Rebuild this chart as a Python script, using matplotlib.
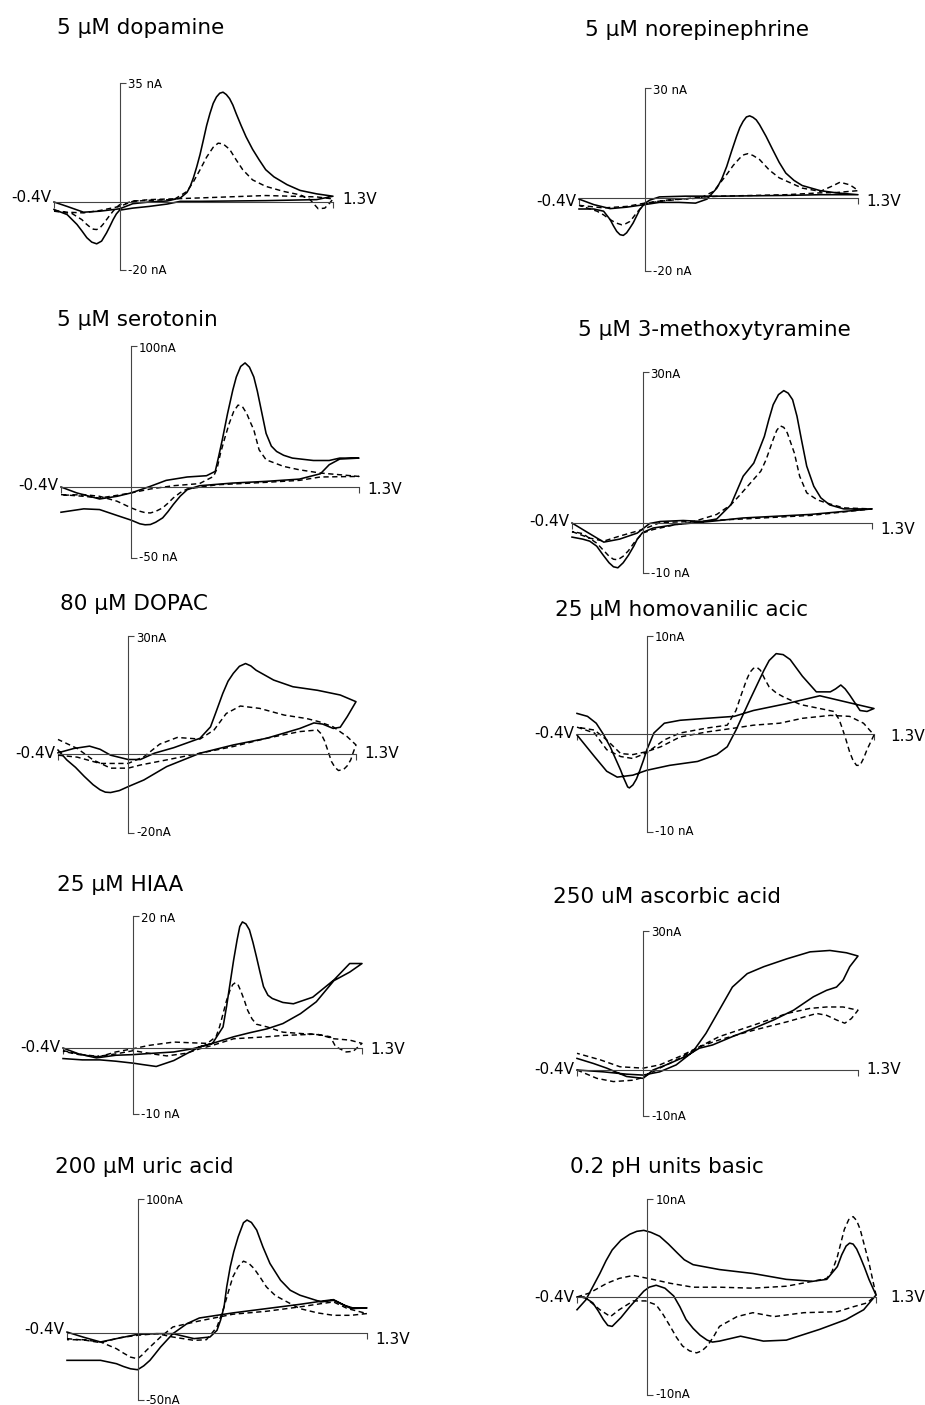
import matplotlib
matplotlib.use("Agg")
import matplotlib.pyplot as plt

plt.rcParams['font.family'] = ['DejaVu Sans']

# Each trace is one voltammogram: forward sweep -0.4 -> 1.3 V, then back to -0.4 V.
# Potentials in V, currents in nA.

# dopamine
da_solid_E = [-0.40, -0.32, -0.22, -0.12, 0.00, 0.08, 0.18, 0.29, 0.37, 0.41, 0.43, 0.45, 0.47, 0.49, 0.51,
              0.53, 0.55, 0.57, 0.59, 0.61, 0.63, 0.65, 0.67, 0.69, 0.71, 0.74, 0.77, 0.81, 0.85, 0.89,
              0.94, 1.02, 1.10, 1.20, 1.30,
              1.20, 0.89, 0.49, 0.37, 0.29, 0.18, 0.08, 0.00, -0.02, -0.04, -0.06, -0.08, -0.11, -0.14,
              -0.17, -0.20, -0.23, -0.26, -0.32, -0.40]
da_solid_nA = [0.0, -1.3, -3.0, -2.7, -2.0, -0.5, 0.0, 0.3, 1.2, 2.8, 4.6, 7.2, 10.4, 14.0, 18.2,
               22.5, 26.0, 29.0, 30.9, 32.0, 32.3, 31.6, 30.4, 28.5, 26.0, 22.5, 19.2, 15.5, 12.4, 9.5,
               7.4, 5.1, 3.4, 2.4, 1.7,
               0.7, 0.4, 0.2, 0.2, -0.6, -1.3, -1.8, -2.4, -3.5, -5.2, -7.2, -9.1, -11.5, -12.3,
               -11.8, -10.5, -8.5, -6.6, -3.7, -2.2]
da_dash_E = [-0.40, -0.32, -0.22, -0.12, 0.00, 0.08, 0.18, 0.33, 0.41, 0.45, 0.49, 0.53, 0.57, 0.60, 0.63,
             0.67, 0.71, 0.75, 0.81, 0.89, 1.00, 1.10, 1.16, 1.21, 1.25, 1.28, 1.30,
             1.20, 0.89, 0.49, 0.18, 0.08, 0.00, -0.02, -0.04, -0.06, -0.08, -0.10, -0.12, -0.14, -0.16,
             -0.18, -0.205, -0.23, -0.29, -0.40]
da_dash_nA = [-2.5, -3.0, -3.2, -2.5, -1.3, 0.2, 0.5, 0.7, 3.1, 6.0, 9.5, 13.2, 16.1, 17.3, 17.1,
              15.5, 12.4, 9.5, 6.5, 4.6, 3.1, 2.1, 0.7, -2.0, -1.8, -0.3, 0.9,
              1.5, 1.9, 1.2, 0.7, 0.2, -0.8, -1.6, -2.7, -3.9, -5.2, -6.5, -7.6, -8.1, -8.0,
              -7.4, -6.4, -5.2, -3.4, -2.7]

# norepinephrine
ne_solid_E = [-0.40, -0.31, -0.21, -0.11, 0.00, 0.09, 0.21, 0.31, 0.38, 0.44, 0.47, 0.50, 0.53, 0.56, 0.58,
              0.60, 0.62, 0.64, 0.66, 0.68, 0.70, 0.74, 0.78, 0.82, 0.86, 0.91, 0.96, 1.07, 1.17, 1.30,
              1.07, 0.86, 0.66, 0.46, 0.25, 0.09, 0.03, 0.00, -0.03, -0.05, -0.07, -0.09, -0.11, -0.13,
              -0.15, -0.17, -0.19, -0.21, -0.25, -0.31, -0.40]
ne_solid_nA = [-0.3, -1.8, -2.9, -2.5, -1.8, -1.2, -1.2, -1.4, -0.3, 2.7, 5.2, 8.6, 12.8, 16.8, 19.2,
               20.9, 22.1, 22.4, 22.0, 21.3, 20.0, 16.8, 13.2, 9.7, 6.8, 4.8, 3.4, 2.0, 1.4, 0.9,
               0.9, 0.7, 0.6, 0.5, 0.5, 0.3, -0.6, -1.5, -3.2, -5.0, -6.8, -8.2, -9.5, -10.2,
               -10.0, -9.1, -7.6, -5.9, -3.6, -3.0, -3.0]
ne_dash_E = [-0.40, -0.25, -0.11, 0.00, 0.15, 0.34, 0.42, 0.50, 0.54, 0.58, 0.605, 0.63, 0.66, 0.70, 0.76,
             0.82, 0.96, 1.07, 1.15, 1.19, 1.25, 1.28, 1.30,
             1.17, 1.07, 0.86, 0.46, 0.34, 0.09, 0.00, -0.025, -0.05, -0.07, -0.09, -0.115, -0.14,
             -0.175, -0.21, -0.25, -0.29, -0.40]
ne_dash_nA = [-2.0, -2.7, -2.3, -1.4, -0.5, 0.0, 1.8, 6.4, 8.9, 10.9, 11.8, 12.1, 11.6, 10.5, 7.6,
              5.5, 2.7, 1.8, 3.4, 4.3, 3.6, 2.7, 2.0,
              1.5, 1.4, 0.9, 0.5, 0.2, -0.9, -1.6, -2.8, -4.1, -5.3, -6.4, -7.0, -7.3,
              -6.8, -5.9, -4.6, -3.6, -2.0]

# serotonin
ht_solid_E = [-0.40, -0.31, -0.18, -0.08, 0.00, 0.11, 0.20, 0.32, 0.43, 0.48, 0.50, 0.52, 0.55, 0.58, 0.60,
              0.625, 0.65, 0.675, 0.70, 0.72, 0.75, 0.77, 0.80, 0.83, 0.87, 0.92, 1.04, 1.13, 1.19, 1.30,
              1.19, 1.13, 1.08, 0.96, 0.77, 0.58, 0.39, 0.32, 0.28, 0.24, 0.21, 0.18, 0.14, 0.11, 0.08,
              0.05, 0.00, -0.08, -0.18, -0.27, -0.40]
ht_solid_nA = [0.0, -4.2, -8.5, -6.6, -4.2, 0.5, 4.7, 7.1, 8.0, 11.1, 22.0, 33.4, 52.0, 68.7, 78.0,
               85.5, 88.0, 85.0, 78.0, 68.0, 50.0, 38.0, 29.0, 25.2, 22.5, 20.5, 18.8, 18.8, 20.5, 20.5,
               19.8, 15.8, 9.4, 5.6, 4.0, 2.8, 0.9, -1.9, -6.5, -12.5, -17.5, -21.9, -25.0, -26.6, -26.8,
               -26.1, -23.5, -20.2, -16.0, -15.5, -17.9]
ht_dash_E = [-0.40, -0.27, -0.18, -0.08, 0.00, 0.11, 0.24, 0.39, 0.47, 0.49, 0.51, 0.535, 0.56, 0.585, 0.61,
             0.635, 0.66, 0.68, 0.70, 0.73, 0.77, 0.87, 0.96, 1.08, 1.19, 1.30,
             1.08, 0.96, 0.77, 0.49, 0.32, 0.28, 0.24, 0.21, 0.18, 0.14, 0.11, 0.08, 0.05, 0.00, -0.08,
             -0.18, -0.27, -0.40]
ht_dash_nA = [-5.4, -6.6, -7.8, -5.9, -4.2, -1.4, 0.9, 2.4, 7.5, 13.0, 24.0, 35.0, 45.2, 53.5, 58.1,
              57.0, 52.0, 46.0, 40.5, 26.4, 19.3, 14.6, 12.2, 9.9, 8.7, 7.5,
              7.1, 4.7, 3.3, 1.6, -1.4, -4.0, -7.8, -11.5, -14.8, -17.3, -18.4, -18.2, -17.2, -14.8, -10.1,
              -6.6, -5.4, -5.9]

# 3-methoxytyramine
mt_solid_E = [-0.40, -0.32, -0.22, -0.13, -0.03, 0.04, 0.10, 0.23, 0.34, 0.42, 0.50, 0.57, 0.63, 0.66,
              0.69, 0.715, 0.74, 0.77, 0.80, 0.825, 0.85, 0.875, 0.90, 0.93, 0.97, 1.01, 1.06, 1.14, 1.30,
              0.95, 0.57, 0.38, 0.19, 0.06, 0.00, -0.03, -0.05, -0.08, -0.11, -0.14, -0.165, -0.19,
              -0.225, -0.26, -0.30, -0.34, -0.40]
mt_solid_nA = [0.0, -1.7, -3.8, -3.2, -2.0, -0.1, 0.3, 0.5, 0.3, 0.8, 3.6, 9.3, 11.9, 14.5,
               17.2, 20.5, 23.5, 25.5, 26.3, 25.8, 24.5, 21.2, 16.6, 11.3, 7.3, 5.0, 3.6, 2.8, 2.8,
               1.7, 1.0, 0.3, -0.3, -1.0, -1.9, -3.2, -4.6, -6.4, -7.9, -8.9, -8.7, -7.9,
               -6.3, -4.6, -3.6, -3.2, -2.8]
mt_dash_E = [-0.40, -0.30, -0.22, -0.13, 0.00, 0.10, 0.29, 0.42, 0.50, 0.55, 0.61, 0.67, 0.70, 0.74,
             0.76, 0.78, 0.80, 0.82, 0.86, 0.89, 0.93, 0.99, 1.04, 1.14, 1.30,
             0.95, 0.57, 0.38, 0.19, 0.06, 0.00, -0.05, -0.08, -0.11, -0.14, -0.165, -0.19, -0.26,
             -0.34, -0.40]
mt_dash_nA = [-1.7, -3.0, -3.6, -2.6, -1.3, 0.1, 0.3, 1.7, 3.6, 5.5, 7.9, 10.3, 12.6, 16.6,
              18.4, 19.3, 19.0, 17.9, 13.9, 9.3, 6.0, 4.6, 4.0, 3.0, 2.8,
              1.5, 0.8, 0.5, -0.3, -1.3, -2.0, -4.0, -5.5, -6.6, -7.3, -7.2, -6.6, -4.0,
              -2.1, -1.7]

# DOPAC
dopac_solid_E = [-0.40, -0.31, -0.22, -0.16, -0.10, 0.00, 0.07, 0.15, 0.26, 0.41, 0.47, 0.50, 0.54, 0.57,
                 0.60, 0.635, 0.67, 0.70, 0.73, 0.83, 0.94, 1.08, 1.21, 1.30,
                 1.25, 1.21, 1.17, 1.11, 1.06, 0.98, 0.79, 0.60, 0.41, 0.22, 0.09, 0.00, -0.05, -0.10,
                 -0.13, -0.16, -0.20, -0.25, -0.30, -0.35, -0.40]
dopac_solid_nA = [0.3, 1.4, 2.0, 1.2, -0.3, -1.4, -1.4, 0.2, 1.6, 4.0, 6.9, 10.5, 15.4, 18.5,
                  20.5, 22.3, 23.0, 22.4, 21.3, 18.8, 17.1, 16.2, 15.0, 13.3,
                  9.5, 6.8, 6.5, 7.6, 7.9, 6.5, 4.0, 2.3, 0.2, -3.2, -6.6, -8.3, -9.3, -9.8,
                  -9.7, -9.1, -7.8, -5.7, -3.4, -1.5, 1.0]
dopac_dash_E = [-0.40, -0.29, -0.16, 0.00, 0.09, 0.18, 0.28, 0.41, 0.49, 0.56, 0.64, 0.75, 0.89, 1.02,
                1.09, 1.17, 1.25, 1.30,
                1.285, 1.27, 1.25, 1.23, 1.20, 1.18, 1.16, 1.14, 1.12, 1.10, 1.08, 0.98, 0.79, 0.60,
                0.41, 0.22, 0.07, 0.00, -0.10, -0.20, -0.29, -0.40]
dopac_dash_nA = [-0.3, -0.8, -2.4, -2.4, -0.7, 2.5, 4.2, 3.8, 6.1, 10.3, 12.2, 11.6, 9.9, 9.0,
                 8.2, 6.9, 4.4, 2.3,
                 0.5, -1.5, -3.0, -3.9, -4.2, -3.4, -1.9, 0.8, 3.4, 5.2, 6.1, 5.7, 4.0, 1.9,
                 0.2, -1.5, -2.8, -3.6, -3.6, -1.5, 1.4, 3.7]

# homovanillic acid
hva_solid_E = [-0.40, -0.30, -0.23, -0.17, -0.08, 0.00, 0.13, 0.29, 0.40, 0.46, 0.51, 0.59, 0.67, 0.70,
               0.74, 0.78, 0.82, 0.89, 0.97, 1.05, 1.08, 1.11, 1.135, 1.16, 1.19, 1.22, 1.26, 1.30,
               1.18, 0.99, 0.80, 0.61, 0.50, 0.34, 0.19, 0.10, 0.04, 0.00, -0.02, -0.04, -0.06, -0.08,
               -0.10, -0.11, -0.12, -0.135, -0.15, -0.18, -0.21, -0.25, -0.29, -0.34, -0.40]
hva_solid_nA = [-0.1, -2.3, -3.8, -4.4, -4.2, -3.7, -3.2, -2.8, -2.1, -1.3, 0.4, 3.5, 6.5, 7.5,
                8.2, 8.1, 7.6, 5.9, 4.3, 4.3, 4.6, 5.0, 4.6, 4.0, 3.2, 2.4, 2.3, 2.6,
                3.1, 3.9, 3.1, 2.4, 1.8, 1.6, 1.4, 1.1, 0.1, -1.6, -2.7, -3.7, -4.6, -5.2,
                -5.5, -5.4, -5.0, -4.4, -3.7, -2.5, -1.3, 0.0, 1.1, 1.8, 2.1]
hva_dash_E = [-0.40, -0.30, -0.23, -0.15, -0.08, 0.00, 0.10, 0.19, 0.34, 0.46, 0.51, 0.54, 0.57, 0.59,
              0.61, 0.63, 0.65, 0.675, 0.70, 0.74, 0.78, 0.88, 0.99, 1.07, 1.10, 1.12, 1.14, 1.16, 1.18,
              1.20, 1.22, 1.24, 1.26, 1.30,
              1.24, 1.16, 1.05, 0.89, 0.76, 0.61, 0.50, 0.34, 0.19, 0.08, 0.00, -0.08, -0.15, -0.23,
              -0.30, -0.40]
hva_dash_nA = [0.7, 0.1, -1.6, -2.3, -2.5, -1.9, -0.6, 0.1, 0.6, 0.9, 2.4, 4.0, 5.5, 6.3,
               6.7, 6.8, 6.5, 5.6, 4.8, 4.2, 3.8, 3.0, 2.6, 2.3, 1.5, 0.5, -0.6, -1.8, -2.7,
               -3.2, -3.2, -2.5, -1.6, -0.1,
               1.1, 1.8, 1.9, 1.6, 1.1, 0.9, 0.6, 0.2, -0.3, -1.3, -1.8, -2.1, -2.0, -0.6,
               0.4, 0.7]

# HIAA
hiaa_solid_E = [-0.40, -0.31, -0.21, -0.10, 0.00, 0.11, 0.23, 0.34, 0.45, 0.51, 0.53, 0.55, 0.57, 0.59,
                0.605, 0.62, 0.64, 0.66, 0.68, 0.70, 0.72, 0.74, 0.765, 0.79, 0.85, 0.91, 1.02, 1.14,
                1.23, 1.30,
                1.23, 1.14, 1.04, 0.95, 0.85, 0.76, 0.66, 0.57, 0.45, 0.38, 0.30, 0.23, 0.13, 0.05,
                0.00, -0.10, -0.19, -0.29, -0.40]
hiaa_solid_nA = [0.0, -0.9, -1.5, -1.1, -1.0, -0.8, -0.6, -0.1, 0.7, 3.2, 6.3, 9.8, 13.3, 16.4,
                 18.4, 19.1, 18.8, 17.9, 16.0, 13.8, 11.5, 9.3, 8.0, 7.5, 6.9, 6.7, 7.7, 10.3,
                 12.8, 12.8,
                 11.5, 10.2, 7.0, 5.2, 3.7, 2.9, 2.3, 1.7, 0.7, 0.2, -0.9, -1.9, -2.8, -2.5,
                 -2.3, -2.0, -1.8, -1.8, -1.6]
hiaa_dash_E = [-0.40, -0.29, -0.19, -0.10, 0.00, 0.09, 0.23, 0.32, 0.42, 0.47, 0.49, 0.51, 0.53, 0.55,
               0.565, 0.58, 0.595, 0.61, 0.63, 0.65, 0.675, 0.70, 0.76, 0.85, 0.95, 1.06, 1.14, 1.23,
               1.30,
               1.25, 1.21, 1.15, 1.12, 1.04, 0.95, 0.85, 0.76, 0.57, 0.45, 0.38, 0.30, 0.19, 0.11,
               0.00, -0.10, -0.21, -0.31, -0.40]
hiaa_dash_nA = [-0.4, -1.0, -1.3, -0.6, -0.1, 0.4, 0.9, 0.8, 0.7, 1.7, 3.2, 5.2, 7.2, 8.8,
                9.6, 9.9, 9.6, 8.7, 7.3, 5.7, 4.4, 3.6, 3.2, 2.4, 2.2, 2.0, 1.4, 1.2,
                0.7,
                -0.5, -0.6, 0.2, 1.7, 2.1, 2.0, 1.9, 1.7, 1.4, 0.4, -0.1, -0.8, -1.2, -0.9,
                -0.4, -0.9, -1.3, -1.0, -0.5]

# ascorbic acid
aa_solid_E = [-0.40, -0.24, -0.10, 0.00, 0.10, 0.20, 0.30, 0.38, 0.46, 0.54, 0.63, 0.73, 0.87, 1.01,
              1.13, 1.23, 1.30,
              1.25, 1.21, 1.17, 1.11, 1.03, 0.91, 0.79, 0.67, 0.54, 0.42, 0.34, 0.26, 0.16, 0.06,
              0.00, -0.10, -0.22, -0.30, -0.40]
aa_solid_nA = [0.0, -0.4, -0.9, -1.1, -0.4, 1.1, 3.9, 7.9, 12.9, 17.9, 20.8, 22.3, 24.0, 25.5,
               25.8, 25.3, 24.6,
               22.3, 19.4, 17.9, 17.2, 15.8, 12.9, 10.8, 9.0, 7.2, 5.4, 4.7, 3.0, 1.4, 0.0,
               -1.8, -1.4, 0.4, 1.4, 2.5]
aa_dash_E = [-0.40, -0.28, -0.18, -0.06, 0.00, 0.10, 0.22, 0.34, 0.46, 0.67, 0.87, 1.01, 1.11, 1.21, 1.30,
             1.26, 1.22, 1.17, 1.11, 1.05, 0.87, 0.67, 0.46, 0.34, 0.22, 0.10, 0.00, -0.14, -0.26, -0.40]
aa_dash_nA = [0.0, -1.8, -2.5, -2.2, -1.6, 0.4, 2.5, 5.0, 7.2, 9.7, 12.2, 13.3, 13.6, 13.6, 12.9,
              11.1, 10.1, 10.8, 11.8, 12.2, 10.4, 8.6, 6.5, 5.0, 2.9, 1.1, 0.4, 0.7, 2.2, 3.6]

# uric acid
ua_solid_E = [-0.40, -0.31, -0.21, -0.12, 0.00, 0.11, 0.20, 0.32, 0.41, 0.45, 0.47, 0.49, 0.505, 0.525,
              0.545, 0.57, 0.60, 0.62, 0.645, 0.675, 0.71, 0.75, 0.81, 0.865, 0.92, 1.04, 1.11, 1.17,
              1.22, 1.30,
              1.21, 1.11, 1.05, 0.92, 0.73, 0.54, 0.45, 0.35, 0.28, 0.20, 0.165, 0.13, 0.10, 0.07,
              0.035, 0.00, -0.04, -0.08, -0.12, -0.21, -0.40]
ua_solid_nA = [0.7, -3.0, -6.7, -4.2, -1.0, -0.5, -0.5, -4.2, -3.0, 2.0, 9.5, 19.5, 34.4, 49.4,
               60.6, 71.8, 82.3, 84.3, 82.5, 76.8, 64.3, 51.9, 39.4, 31.9, 28.2, 23.2, 24.4, 20.7,
               18.7, 18.7,
               18.2, 24.9, 23.9, 21.4, 18.2, 15.0, 13.2, 11.2, 7.0, -0.5, -5.5, -10.5, -15.5, -20.4,
               -24.5, -27.4, -26.7, -25.0, -22.9, -20.4, -20.4]
ua_dash_E = [-0.40, -0.29, -0.21, -0.10, 0.00, 0.11, 0.20, 0.32, 0.39, 0.45, 0.47, 0.49, 0.515, 0.54,
             0.57, 0.60, 0.63, 0.66, 0.695, 0.73, 0.78, 0.83, 0.92, 1.02, 1.11, 1.21, 1.30,
             1.19, 1.11, 1.04, 0.92, 0.73, 0.54, 0.35, 0.20, 0.13, 0.09, 0.05, 0.025, 0.00, -0.04,
             -0.08, -0.12, -0.21, -0.31, -0.40]
ua_dash_nA = [-4.2, -5.5, -7.2, -3.5, -1.7, -0.5, -3.0, -5.5, -5.0, 4.5, 12.0, 19.5, 31.0, 41.9,
              49.5, 53.6, 52.0, 48.1, 41.5, 34.4, 28.0, 24.4, 18.2, 15.0, 13.2, 13.2, 14.5,
              18.2, 23.2, 21.9, 19.5, 16.2, 14.0, 9.0, 4.5, -3.0, -8.0, -13.0, -16.5, -19.2, -18.0,
              -15.0, -11.7, -6.7, -5.0, -5.0]

# basic pH shift
ph_solid_E = [-0.40, -0.35, -0.27, -0.235, -0.20, -0.15, -0.10, -0.06, -0.02, 0.02, 0.07, 0.12, 0.17,
              0.21, 0.26, 0.41, 0.60, 0.79, 0.94, 1.02, 1.08, 1.105, 1.13, 1.15, 1.17, 1.19, 1.21,
              1.235, 1.26, 1.30,
              1.23, 1.13, 0.98, 0.79, 0.66, 0.53, 0.41, 0.37, 0.34, 0.30, 0.26, 0.22, 0.185, 0.15,
              0.10, 0.05, 0.01, -0.02, -0.06, -0.10, -0.15, -0.20, -0.225, -0.25, -0.28, -0.31,
              -0.36, -0.40]
ph_solid_nA = [-1.3, -0.3, 2.4, 3.7, 4.8, 5.8, 6.4, 6.7, 6.8, 6.6, 6.2, 5.4, 4.5,
               3.8, 3.3, 2.8, 2.4, 1.8, 1.6, 1.8, 3.1, 4.3, 5.2, 5.5, 5.4, 4.9, 4.1,
               3.0, 1.8, 0.2,
               -1.3, -2.3, -3.3, -4.4, -4.5, -4.0, -4.5, -4.6, -4.4, -3.9, -3.2, -2.3, -1.0, 0.1,
               0.9, 1.2, 1.0, 0.6, -0.2, -1.0, -2.1, -3.0, -2.9, -2.3, -1.4, -0.6,
               0.0, 0.0]
ph_dash_E = [-0.40, -0.33, -0.23, -0.16, -0.08, 0.03, 0.13, 0.26, 0.41, 0.60, 0.79, 0.94, 1.02, 1.05,
             1.08, 1.10, 1.12, 1.145, 1.17, 1.19, 1.21, 1.235, 1.26, 1.30,
             1.25, 1.17, 1.08, 0.89, 0.72, 0.60, 0.51, 0.41, 0.375, 0.34, 0.31, 0.28, 0.24, 0.20,
             0.165, 0.13, 0.09, 0.05, -0.01, -0.08, -0.16, -0.21, -0.27, -0.35, -0.40]
ph_dash_nA = [0.0, 0.4, 1.4, 1.9, 2.2, 1.8, 1.4, 1.0, 1.0, 0.9, 1.1, 1.6, 1.9, 2.6,
              4.1, 5.5, 6.9, 7.9, 8.2, 7.8, 6.9, 5.2, 3.5, 0.2,
              -0.6, -1.0, -1.5, -1.6, -2.0, -1.6, -2.0, -3.0, -4.1, -5.0, -5.5, -5.7, -5.5, -5.0,
              -4.1, -3.0, -1.8, -0.8, -0.4, -0.4, -1.3, -2.0, -1.3, -0.1, 0.0]

titles = ["5 \u03bcM dopamine", "5 \u03bcM norepinephrine",
          "5 \u03bcM serotonin", "5 \u03bcM 3-methoxytyramine",
          "80 \u03bcM DOPAC", "25 \u03bcM homovanilic acic",
          "25 \u03bcM HIAA", "250 uM ascorbic acid",
          "200 \u03bcM uric acid", "0.2 pH units basic"]
current_top = [35, 30, 100, 30, 30, 10, 20, 30, 100, 10]
current_bottom = [-20, -20, -50, -10, -20, -10, -10, -10, -50, -10]
top_labels = ["35 nA", "30 nA", "100nA", "30nA", "30nA", "10nA", "20 nA", "30nA", "100nA", "10nA"]
bottom_labels = ["-20 nA", "-20 nA", "-50 nA", "-10 nA", "-20nA", "-10 nA", "-10 nA", "-10nA",
                 "-50nA", "-10nA"]
traces = [
    (da_solid_E, da_solid_nA, da_dash_E, da_dash_nA),
    (ne_solid_E, ne_solid_nA, ne_dash_E, ne_dash_nA),
    (ht_solid_E, ht_solid_nA, ht_dash_E, ht_dash_nA),
    (mt_solid_E, mt_solid_nA, mt_dash_E, mt_dash_nA),
    (dopac_solid_E, dopac_solid_nA, dopac_dash_E, dopac_dash_nA),
    (hva_solid_E, hva_solid_nA, hva_dash_E, hva_dash_nA),
    (hiaa_solid_E, hiaa_solid_nA, hiaa_dash_E, hiaa_dash_nA),
    (aa_solid_E, aa_solid_nA, aa_dash_E, aa_dash_nA),
    (ua_solid_E, ua_solid_nA, ua_dash_E, ua_dash_nA),
    (ph_solid_E, ph_solid_nA, ph_dash_E, ph_dash_nA),
]

# panel frames in pixels: x of -0.4 V, x of 1.3 V, y of top current, y of zero current
W, H = 925, 1405
frames = [(54, 333, 83, 202), (579, 858, 88, 198),
          (61, 359, 346, 487), (572, 872, 372, 523),
          (58, 356, 636, 754), (577, 874, 636, 734),
          (63, 362, 916, 1048), (577, 858, 931, 1070),
          (67, 367, 1199, 1333), (577, 876, 1199, 1297)]
title_xy = [(57, 28), (585, 30), (57, 320), (578, 330), (60, 604),
            (555, 610), (57, 885), (553, 897), (55, 1167), (570, 1167)]
# end-label nudges in px: left label dy, right label dy (downward positive), right label gap
end_label_pos = [(-4, -3, 9), (4, 4, 8), (-2, 3, 8), (-2, 7, 8), (0, 0, 8),
                 (0, 3, 16), (0, 2, 8), (0, 0, 8), (-4, 6, 8), (0, 0, 14)]

fig = plt.figure(figsize=(W / 100, H / 100), dpi=100)

for k in range(10):
    xl, xr, yt, y0 = frames[k]
    ymax, ymin = current_top[k], current_bottom[k]
    yb = y0 + (y0 - yt) * (-ymin) / ymax
    ax = fig.add_axes([xl / W, 1 - yb / H, (xr - xl) / W, (yb - yt) / H])
    ax.set_xlim(-0.4, 1.3)
    ax.set_ylim(ymin, ymax)
    ax.patch.set_visible(False)

    for side in ("top", "right"):
        ax.spines[side].set_visible(False)
    for side in ("left", "bottom"):
        ax.spines[side].set_position(("data", 0))
        ax.spines[side].set_color("#444444")
        ax.spines[side].set_linewidth(0.8)
    ax.set_xticks([-0.4, 1.3])
    ax.set_yticks([ymin, ymax])
    ax.tick_params(axis="x", direction="out", length=4, width=0.8, color="#444444",
                   labelbottom=False)
    ax.tick_params(axis="y", direction="in", length=4, width=0.8, color="#444444",
                   labelleft=False)

    sE, sI, dE, dI = traces[k]
    ax.plot(sE, sI, color="black", lw=1.15, solid_joinstyle="round", clip_on=False)
    ax.plot(dE, dI, color="black", lw=1.05, dashes=(3.6, 2.4), clip_on=False)

    dyl, dyr, gap = end_label_pos[k]
    ax.annotate("-0.4V", xy=(-0.4, 0), xytext=(-3, -dyl), textcoords="offset pixels",
                ha="right", va="center", fontsize=11)
    ax.annotate("1.3V", xy=(1.3, 0), xytext=(gap, -dyr), textcoords="offset pixels",
                ha="left", va="center", fontsize=11)
    ax.annotate(top_labels[k], xy=(0, ymax), xytext=(8, -2), textcoords="offset pixels",
                ha="left", va="center", fontsize=8.5)
    ax.annotate(bottom_labels[k], xy=(0, ymin), xytext=(8, 0), textcoords="offset pixels",
                ha="left", va="center", fontsize=8.5)

    tx, ty = title_xy[k]
    fig.text(tx / W, 1 - ty / H, titles[k], fontsize=15.5, ha="left", va="center")

fig.savefig("out.png", dpi=100)
